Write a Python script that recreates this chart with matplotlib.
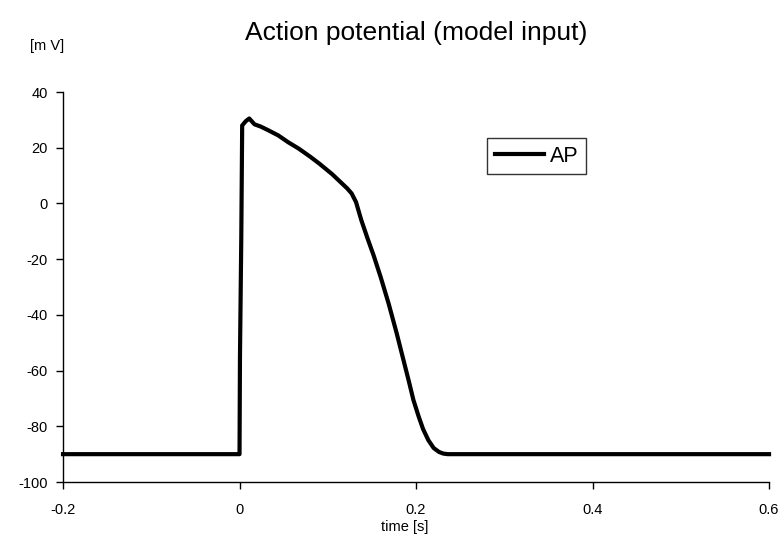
import matplotlib
matplotlib.use("Agg")
import matplotlib.pyplot as plt

plt.rcParams['font.family'] = ['Liberation Sans', 'DejaVu Sans']
plt.rcParams['axes.unicode_minus'] = False

# data (time in s, potential in mV)
time_s = [-0.2, 0.0, 0.0005, 0.002, 0.003, 0.007, 0.011, 0.017, 0.024, 0.033,
          0.044, 0.055, 0.067, 0.08, 0.09, 0.105, 0.116, 0.122, 0.127, 0.132,
          0.138, 0.145, 0.152, 0.16, 0.169, 0.178, 0.186, 0.192, 0.197, 0.203,
          0.208, 0.214, 0.22, 0.226, 0.231, 0.236, 0.6]
ap_mv = [-90, -90, -55, -12, 28, 29.5, 30.5, 28.4, 27.6, 26.2,
         24.4, 22.0, 19.7, 16.8, 14.4, 10.5, 7.2, 5.4, 3.6, 0.5,
         -6.0, -12.5, -18.7, -26.5, -36.0, -46.5, -56.5, -64.0, -70.5, -76.5,
         -81.0, -85.0, -87.8, -89.2, -89.8, -90, -90]

xticks = [-0.2, 0, 0.2, 0.4, 0.6]
xtick_labels = ['-0.2', '0', '0.2', '0.4', '0.6']
yticks = [-100, -80, -60, -40, -20, 0, 20, 40]

fig = plt.figure(figsize=(7.82, 5.5), dpi=100)
ax = fig.add_axes([0.0806, 0.1236, 0.9028, 0.7091])
ax.plot(time_s, ap_mv, color='black', linewidth=3.0, label='AP',
        solid_joinstyle='round', clip_on=False)
ax.set_xlim(-0.2, 0.6)
ax.set_ylim(-100, 40)
ax.set_xticks(xticks)
ax.set_xticklabels(xtick_labels)
ax.set_yticks(yticks)
for s in ['top', 'right']:
    ax.spines[s].set_visible(False)
for s in ['left', 'bottom']:
    ax.spines[s].set_linewidth(1.0)
ax.tick_params(direction='out', length=5, width=1.0, labelsize=10.5)
ax.tick_params(axis='x', pad=10)
ax.tick_params(axis='y', pad=6)
fig.text(0.518, 0.042, 'time [s]', fontsize=10.5, ha='center', va='center')
fig.text(0.038, 0.917, '[m V]', fontsize=10.5, ha='left', va='center')
fig.text(0.532, 0.94, 'Action potential (model input)', fontsize=19,
         ha='center', va='center')
leg = ax.legend(loc='upper left', bbox_to_anchor=(0.601, 0.882), frameon=True,
                fancybox=False, edgecolor='black', fontsize=15.5, handlelength=2.3,
                handletextpad=0.25, borderpad=0.35, borderaxespad=0)
leg.get_frame().set_linewidth(1.0)
fig.savefig('out.png', dpi=100)
